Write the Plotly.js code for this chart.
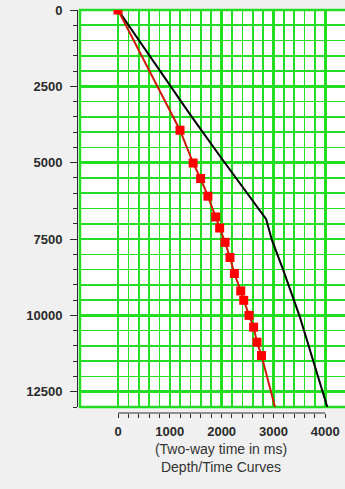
<!DOCTYPE html>
<html>
<head>
<meta charset="utf-8">
<script src="https://cdn.plot.ly/plotly-3.0.1.min.js"></script>
<style>
  html, body { margin: 0; padding: 0; background: #f0f0f0; overflow: hidden; }
  #chart { width: 362px; height: 489px; }
</style>
</head>
<body>
<div id="chart"></div>
<script>
// Checkshot samples: two-way time (ms) vs depth
const shotTime  = [0, 1197, 1450, 1595, 1735, 1886, 1962, 2066, 2162, 2246, 2369, 2427, 2529, 2618, 2683, 2770];
const shotDepth = [0, 3937, 5010, 5520, 6097, 6776, 7138, 7609, 8103, 8629, 9200, 9507, 10000, 10385, 10877, 11316];

// Red trend through the checkshots, carried to the bottom of the section
const trendTime  = [0, 1197, 1450, 1595, 1735, 1886, 1962, 2066, 2162, 2246, 2369, 2427, 2529, 2618, 2683, 2770, 3030];
const trendDepth = [0, 3937, 5010, 5520, 6097, 6776, 7138, 7609, 8103, 8629, 9200, 9507, 10000, 10385, 10877, 11316, 13000];

// Black depth/time curve
const curveTime  = [0, 1390, 1970, 2700, 2860, 2970, 3190, 3510, 4040];
const curveDepth = [0, 3420, 4790, 6450, 6850, 7530, 8520, 10050, 13000];

// Axis ticks
const timeTicks  = [0, 1000, 2000, 3000, 4000];
const timeLabels = ['0', '1000', '2000', '3000', '4000'];
const timeMinor  = [0, 200, 400, 600, 800, 1000, 1200, 1400, 1600, 1800, 2000, 2200, 2400, 2600, 2800,
                    3000, 3200, 3400, 3600, 3800, 4000];
const depthTicks  = [0, 2500, 5000, 7500, 10000, 12500];
const depthLabels = ['0', '2500', '5000', '7500', '10000', '12500'];
const depthStep   = 500;

const GREEN = '#22dd22';
const INK = '#2a2a2a';
const labelFont = { family: 'Liberation Sans, Arial, sans-serif', size: 13, color: INK, weight: 'bold' };
const X_RANGE = [-734, 4710];
const X_DOMAIN = [3 / 285, 1];
const Y_DOMAIN = [6 / 403, 1];

const traces = [
  {
    x: curveTime, y: curveDepth, type: 'scatter', mode: 'lines',
    line: { color: '#000000', width: 2 }, hoverinfo: 'skip'
  },
  {
    x: trendTime, y: trendDepth, type: 'scatter', mode: 'lines',
    line: { color: '#d01808', width: 2 }, hoverinfo: 'skip'
  },
  {
    x: shotTime, y: shotDepth, type: 'scatter', mode: 'markers',
    marker: { symbol: 'square', size: 9, color: '#ff0000', line: { width: 0 } }, hoverinfo: 'skip'
  },
  // invisible point that keeps the overlay grid axis active
  {
    x: [timeTicks[0]], y: [depthTicks[0]], xaxis: 'x2', yaxis: 'y', type: 'scatter',
    mode: 'markers', marker: { opacity: 0 }, hoverinfo: 'skip'
  }
];

const layout = {
  width: 362, height: 489,
  margin: { l: 77, r: 0, t: 10, b: 76 },
  paper_bgcolor: '#f0f0f0',
  plot_bgcolor: '#ffffff',
  showlegend: false,
  // time axis: every 200 ms gets a tick and a thin grid line, labels on the thousands
  xaxis: {
    domain: X_DOMAIN,
    range: X_RANGE,
    anchor: 'free', position: 0,
    tickmode: 'array', tickvals: timeMinor,
    ticktext: timeMinor.map(v => timeTicks.includes(v) ? timeLabels[timeTicks.indexOf(v)] : ''),
    ticks: 'outside', ticklen: 4, tickwidth: 1, tickcolor: INK,
    tickfont: labelFont, ticklabelstandoff: 2,
    showline: false, zeroline: false,
    showgrid: true, gridcolor: GREEN, gridwidth: 1.6,
    title: {
      text: '(Two-way time in ms)<br>Depth/Time Curves',
      font: { family: 'Liberation Sans, Arial, sans-serif', size: 14, color: '#333333' },
      standoff: 6
    }
  },
  // heavier grid lines on the thousands
  xaxis2: {
    overlaying: 'x', domain: X_DOMAIN, range: X_RANGE,
    anchor: 'free', position: 0,
    tickmode: 'array', tickvals: timeTicks, ticktext: timeTicks.map(() => ''),
    ticks: '', showline: false, zeroline: false,
    showgrid: true, gridcolor: GREEN, gridwidth: 2.6
  },
  yaxis: {
    domain: Y_DOMAIN,
    range: [13000, 0],
    anchor: 'free', position: 0,
    tickmode: 'array', tickvals: depthTicks, ticktext: depthLabels,
    ticks: 'outside', ticklen: 7, tickwidth: 1, tickcolor: INK,
    tickfont: labelFont, ticklabelstandoff: 5,
    showline: true, linecolor: INK, linewidth: 1,
    zeroline: false,
    showgrid: true, gridcolor: GREEN, gridwidth: 2.6,
    minor: {
      tickmode: 'linear', tick0: depthTicks[0], dtick: depthStep,
      ticks: 'outside', ticklen: 4, tickwidth: 1, tickcolor: INK,
      showgrid: true, gridcolor: GREEN, gridwidth: 1.6
    }
  },
  shapes: [
    // green frame around the plot area
    { type: 'rect', xref: 'x domain', yref: 'y domain', x0: 0, x1: 1, y0: 0, y1: 1,
      line: { color: GREEN, width: 2.4 }, fillcolor: 'rgba(0,0,0,0)', layer: 'below' },
    // detached time axis line spanning the labelled range
    { type: 'line', xref: 'x', yref: 'paper', x0: timeTicks[0], x1: timeTicks[timeTicks.length - 1],
      y0: 0, y1: 0, line: { color: INK, width: 1 } }
  ]
};

Plotly.newPlot('chart', traces, layout, { staticPlot: true, displayModeBar: false });
</script>
</body>
</html>
